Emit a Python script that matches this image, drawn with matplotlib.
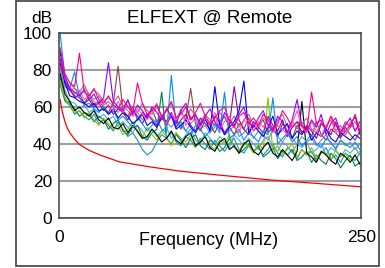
import matplotlib
matplotlib.use('Agg')
import matplotlib.pyplot as plt
import numpy as np

plt.rcParams['font.family'] = ['Liberation Sans', 'DejaVu Sans']

# limit line (red)
limit_freq = [1, 2, 3, 5, 7, 9, 13, 17, 25, 34, 50, 75, 100, 130, 175, 210, 250]
limit_db = [64, 60, 57, 52, 48.5, 46, 42.5, 39.7, 36.5, 34, 30.3, 27.6, 25.3, 23.3, 20.5, 18.8, 16.8]

# measured pairs, 1..249 MHz in 4 MHz steps
pink = [92, 78, 73, 71, 89, 68, 66, 70, 64, 62,
        66, 61, 59, 64, 60, 57, 73, 62, 56, 58,
        61, 55, 58, 63, 54, 56, 60, 53, 57, 62,
        55, 51, 54, 58, 60, 52, 49, 55, 57, 51,
        54, 50, 56, 53, 48, 51, 58, 54, 49, 52,
        50, 47, 68, 51, 53, 48, 55, 50, 46, 52,
        49, 56, 47]
purple = [86, 76, 70, 68, 66, 69, 64, 67, 62, 65,
          84, 63, 60, 58, 64, 56, 61, 58, 54, 60,
          57, 53, 59, 55, 51, 58, 62, 53, 56, 50,
          55, 59, 52, 48, 57, 53, 50, 56, 60, 51,
          49, 54, 58, 50, 47, 55, 52, 46, 53, 64,
          50, 47, 53, 49, 56, 45, 51, 54, 46, 50,
          54, 47, 52]
mauve = [88, 77, 73, 70, 68, 72, 66, 69, 67, 63,
         65, 62, 66, 60, 63, 59, 57, 62, 58, 56,
         60, 55, 58, 62, 54, 57, 53, 59, 55, 52,
         56, 53, 50, 57, 54, 51, 55, 49, 53, 56,
         50, 48, 54, 51, 47, 53, 56, 49, 52, 48,
         51, 54, 48, 46, 52, 49, 55, 47, 50, 45,
         49, 52, 47]
dmagenta = [84, 73, 69, 66, 65, 62, 64, 60, 62, 58,
            61, 56, 59, 57, 53, 58, 55, 51, 56, 53,
            50, 55, 52, 57, 49, 53, 56, 50, 47, 54,
            51, 48, 55, 52, 46, 50, 71, 53, 48, 45,
            52, 49, 46, 55, 50, 47, 53, 44, 49, 52,
            46, 50, 47, 43, 51, 48, 45, 52, 44, 47,
            50, 55, 45]
brown = [83, 74, 70, 65, 67, 62, 66, 61, 63, 60,
         57, 62, 82, 58, 55, 60, 53, 57, 54, 59,
         52, 55, 50, 56, 53, 48, 54, 70, 51, 47,
         53, 50, 46, 52, 55, 49, 45, 51, 48, 54,
         47, 50, 53, 46, 49, 44, 51, 47, 43, 50,
         46, 49, 44, 52, 45, 42, 48, 46, 43, 49,
         45, 42, 47]
hotpink = [87, 75, 71, 67, 69, 64, 66, 63, 61, 64,
           60, 58, 63, 57, 61, 55, 59, 56, 53, 58,
           62, 54, 51, 56, 53, 59, 50, 55, 52, 49,
           54, 51, 57, 48, 52, 55, 49, 46, 53, 50,
           47, 52, 49, 54, 46, 50, 48, 45, 51, 58,
           49, 46, 52, 47, 44, 50, 53, 46, 48, 45,
           52, 47, 50]
blue = [90, 73, 66, 65, 63, 62, 60, 62, 58, 59,
        56, 59, 54, 57, 55, 51, 53, 56, 50, 52,
        49, 54, 51, 55, 48, 50, 53, 49, 46, 51,
        54, 47, 71, 50, 45, 49, 52, 58, 74, 46,
        50, 47, 44, 49, 55, 45, 48, 51, 43, 47,
        45, 49, 42, 46, 44, 48, 43, 41, 46, 44,
        42, 45, 43]
skyblue = [100, 76, 70, 79, 65, 61, 62, 59, 57, 60,
           56, 58, 53, 55, 52, 49, 54, 51, 47, 50,
           53, 48, 46, 77, 49, 52, 47, 45, 50, 48,
           44, 47, 51, 46, 68, 43, 45, 48, 42, 46,
           44, 41, 47, 45, 65, 40, 43, 46, 41, 44,
           39, 42, 45, 40, 38, 43, 41, 37, 42, 40,
           38, 41, 37]
steel = [81, 71, 69, 70, 66, 70, 67, 64, 66, 61,
         63, 60, 57, 61, 58, 55, 57, 53, 56, 54,
         51, 55, 52, 49, 53, 50, 47, 51, 54, 48,
         50, 46, 49, 52, 45, 47, 50, 44, 46, 49,
         43, 47, 45, 42, 48, 44, 41, 45, 43, 40,
         44, 41, 43, 39, 42, 45, 40, 38, 42, 39,
         41, 37, 40]
teal = [72, 63, 61, 56, 58, 55, 53, 56, 51, 53,
        50, 47, 52, 48, 44, 46, 42, 37, 34, 36,
        41, 45, 43, 46, 41, 39, 44, 42, 38, 43,
        40, 37, 42, 39, 36, 40, 43, 37, 35, 39,
        36, 38, 34, 37, 40, 35, 33, 38, 36, 32,
        37, 34, 36, 31, 35, 38, 32, 34, 30, 35,
        33, 31, 35]
lightblue = [80, 69, 63, 62, 59, 61, 57, 59, 54, 56,
             53, 55, 50, 52, 49, 46, 50, 47, 43, 48,
             44, 47, 49, 43, 46, 41, 45, 48, 42, 40,
             46, 43, 40, 44, 41, 38, 45, 42, 39, 43,
             40, 37, 42, 44, 38, 36, 41, 39, 35, 40,
             38, 41, 35, 37, 40, 34, 38, 36, 33, 37,
             35, 38, 34]
green = [76, 64, 62, 59, 55, 57, 56, 52, 55, 53,
         48, 51, 53, 47, 45, 49, 50, 44, 42, 46,
         48, 68, 43, 40, 45, 42, 38, 43, 45, 39,
         37, 42, 40, 36, 38, 43, 39, 35, 37, 40,
         36, 39, 33, 35, 38, 32, 36, 34, 37, 31,
         33, 36, 30, 34, 31, 29, 35, 32, 27, 31,
         34, 28, 30]
ygreen = [74, 65, 60, 57, 58, 54, 57, 53, 50, 54,
          51, 48, 50, 45, 48, 52, 46, 43, 49, 45,
          42, 47, 44, 39, 46, 43, 41, 45, 38, 42,
          44, 39, 37, 42, 40, 45, 38, 36, 41, 39,
          35, 40, 37, 65, 36, 39, 34, 37, 40, 33,
          37, 34, 38, 32, 36, 35, 31, 37, 33, 35,
          31, 34, 36]
black = [78, 67, 63, 58, 60, 57, 55, 58, 53, 51,
         54, 49, 48, 51, 46, 50, 47, 43, 44, 48,
         45, 41, 43, 47, 42, 40, 44, 46, 39, 41,
         44, 38, 36, 41, 43, 37, 39, 35, 40, 42,
         36, 34, 38, 41, 35, 33, 37, 34, 31, 36,
         63, 35, 33, 30, 36, 34, 31, 29, 35, 33,
         30, 34, 29]

series = [
    (teal, '#1a8fc0'), (lightblue, '#40b0e0'), (green, '#008040'), (ygreen, '#8cc000'),
    (black, '#000000'), (steel, '#7a90b0'), (brown, '#8b4040'), (mauve, '#c0609a'),
    (dmagenta, '#990099'), (skyblue, '#0090ff'), (blue, '#0000ff'), (hotpink, '#ff50c0'),
    (purple, '#9900ff'), (pink, '#ff0080'),
]

fig = plt.figure(figsize=(3.85, 2.68), dpi=100)
ax = fig.add_axes([0.153, 0.187, 0.785, 0.690])

for vals, col in series:
    f = np.linspace(1, 249, len(vals))
    ax.plot(f, vals, color=col, lw=0.8)
ax.plot(limit_freq, limit_db, color='red', lw=0.9)

ax.set_xlim(0, 250)
ax.set_ylim(0, 100)
ax.set_xticks([0, 250])
ax.set_yticks([0, 20, 40, 60, 80, 100])
ax.tick_params(length=0, labelsize=12.5, pad=5)
ax.tick_params(axis='x', pad=9)
ax.grid(axis='y', color='#a0a0a0', lw=1.5)
ax.set_axisbelow(True)
for s in ax.spines.values():
    s.set_color('#404040')
    s.set_linewidth(1.1)

fig.text(0.545, 0.93, 'ELFEXT @ Remote', ha='center', va='center', fontsize=13.5)
fig.text(0.135, 0.93, 'dB', ha='right', va='center', fontsize=12.5)
fig.text(0.543, 0.104, 'Frequency (MHz)', ha='center', va='center', fontsize=13)

# frame round the whole chart
fig.patches.append(plt.Rectangle((0.0416, 0.0075), 0.942, 0.988, transform=fig.transFigure,
                                 fill=False, edgecolor='#404040', lw=1.2))

plt.savefig('out.png', dpi=100)
